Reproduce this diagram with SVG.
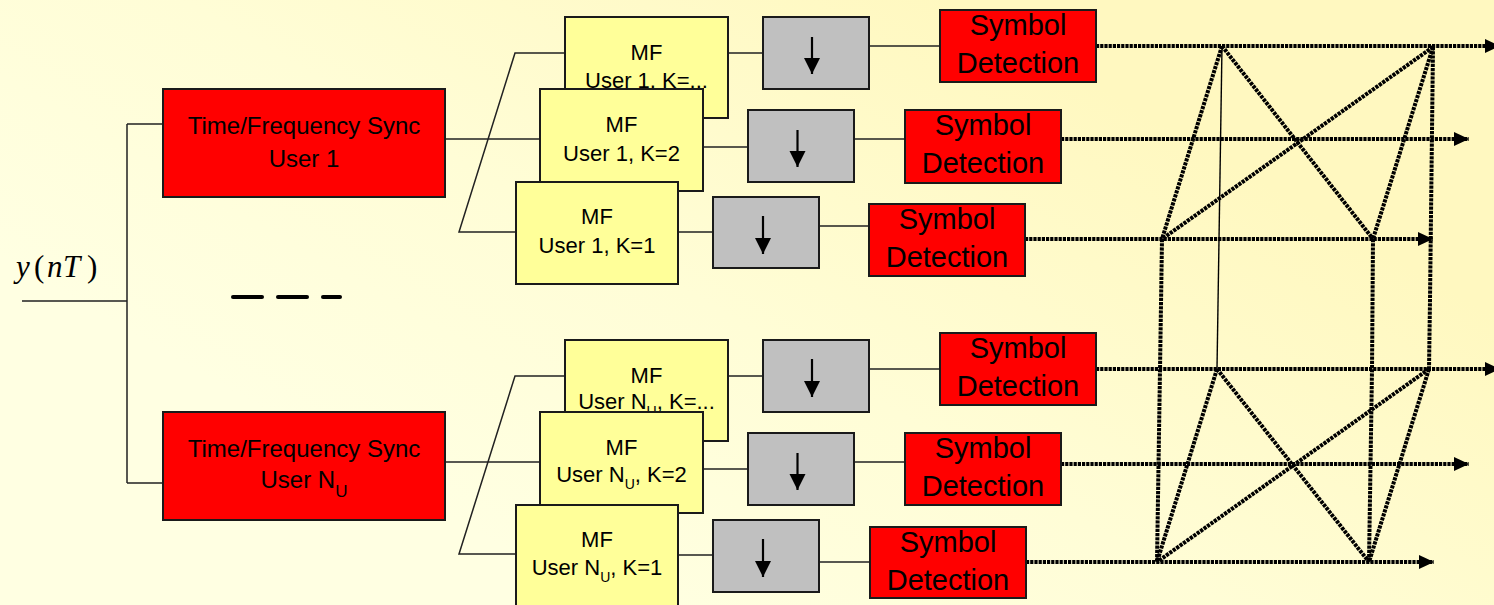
<svg xmlns="http://www.w3.org/2000/svg" width="1494" height="605" viewBox="0 0 1494 605">
  <style>
    .box { stroke: #1a1a1a; stroke-width: 2; }
    .red { fill: #ff0000; }
    .mf { fill: #ffff99; }
    .gray { fill: #c0c0c0; }
    .wire { fill: none; stroke: #222; stroke-width: 1.5; }
    .dot { fill: none; stroke: #000; stroke-width: 4; stroke-dasharray: 3.2 1; }
    .thin { fill: none; stroke: #000; stroke-width: 1.4; }
    .down { stroke: #000; stroke-width: 2.2; marker-end: url(#headDown); }
    .lbl { font-family: "Liberation Sans", Arial, sans-serif; fill: #000; text-anchor: middle; }
    .sync { font-size: 24px; }
    .mft { font-size: 22px; }
    .sd { font-size: 29px; }
    .sub { font-size: 14px; }
    .subL { font-size: 17px; }
  </style>
  <defs>
    <linearGradient id="bg" gradientUnits="userSpaceOnUse" x1="950" y1="0" x2="600" y2="605">
      <stop offset="0" stop-color="#fff8c0"/>
      <stop offset="0.55" stop-color="#fffdd6"/>
      <stop offset="1" stop-color="#ffffe2"/>
    </linearGradient>
    <marker id="headDown" markerUnits="userSpaceOnUse" markerWidth="17" markerHeight="17" refX="16" refY="8" orient="auto">
      <path d="M0,0 L16,8 L0,16 z" fill="#000"/>
    </marker>
    <marker id="headOut" markerUnits="userSpaceOnUse" markerWidth="16" markerHeight="16" refX="15" refY="7" orient="auto">
      <path d="M0,0 L15,7 L0,14 z" fill="#000"/>
    </marker>
  </defs>

  <rect x="0" y="0" width="1494" height="605" fill="url(#bg)"/>

  <!-- input label -->
  <g id="input" font-family="'Liberation Serif', 'Times New Roman', serif" font-size="31">
    <text y="277"><tspan x="16" font-style="italic">y</tspan><tspan x="34">(</tspan><tspan x="47" font-style="italic">n</tspan><tspan x="63" font-style="italic">T</tspan><tspan x="87">)</tspan></text>
  </g>

  <!-- ellipsis between the user branches -->
  <g id="ellipsis" stroke="#000" stroke-width="4" stroke-linecap="round">
    <line x1="233" y1="297" x2="262" y2="297"/>
    <line x1="278" y1="297" x2="307" y2="297"/>
    <line x1="323" y1="297" x2="340" y2="297"/>
  </g>

  <g id="connectors">
    <!-- input trunk -->
    <path class="wire" d="M22,301 H127 M127,124 V483 M127,124 H163 M127,483 H163"/>
    <!-- user 1 fan-out -->
    <path class="wire" d="M445,139 H540 M565,53 H515 L459,232 H516"/>
    <path class="wire" d="M728,53 H763 M703,147 H748 M678,232 H713"/>
    <path class="wire" d="M869,46 H940 M854,139 H905 M819,226 H870"/>
    <!-- user N_U fan-out -->
    <path class="wire" d="M445,462 H540 M565,376 H515 L459,554 H516"/>
    <path class="wire" d="M728,376 H763 M703,469 H748 M678,555 H713"/>
    <path class="wire" d="M869,369 H940 M854,462 H905 M819,562 H870"/>

    <!-- detector outputs -->
    <line class="dot" x1="1096" y1="46" x2="1500" y2="46" marker-end="url(#headOut)"/>
    <line class="dot" x1="1061" y1="139" x2="1469" y2="139" marker-end="url(#headOut)"/>
    <line class="dot" x1="1025" y1="239" x2="1433" y2="239" marker-end="url(#headOut)"/>
    <line class="dot" x1="1096" y1="369" x2="1500" y2="369" marker-end="url(#headOut)"/>
    <line class="dot" x1="1061" y1="464" x2="1469" y2="464" marker-end="url(#headOut)"/>
    <line class="dot" x1="1026" y1="562" x2="1434" y2="562" marker-end="url(#headOut)"/>

    <!-- upper lattice -->
    <path class="dot" d="M1222,46 L1162,239"/>
    <path class="dot" d="M1222,46 L1373,239"/>
    <path class="dot" d="M1433,47 L1162,239"/>
    <path class="dot" d="M1433,47 L1373,239"/>
    <!-- verticals joining the two lattices -->
    <path class="dot" d="M1162,239 L1160,370 L1157,562"/>
    <path class="dot" d="M1373,239 L1372,370 L1369,562"/>
    <path class="dot" d="M1433,47 L1430,300 L1429,369"/>
    <path class="thin" d="M1222,46 L1217,369"/>
    <!-- lower lattice -->
    <path class="dot" d="M1217,369 L1157,562"/>
    <path class="dot" d="M1217,369 L1369,562"/>
    <path class="dot" d="M1429,369 L1157,562"/>
    <path class="dot" d="M1429,369 L1369,562"/>
  </g>

  <!-- user 1 chain -->
  <g id="sync1">
    <rect class="box red" x="163" y="89" width="282" height="108"/>
    <text class="lbl sync" x="304" y="134">Time/Frequency Sync</text>
    <text class="lbl sync" x="304" y="167">User 1</text>
  </g>
  <g id="mf1k">
    <rect class="box mf" x="565" y="17" width="163" height="101"/>
    <text class="lbl mft" x="646.5" y="60">MF</text>
    <text class="lbl mft" x="646.5" y="88">User 1, K=...</text>
  </g>
  <g id="mf1k2">
    <rect class="box mf" x="540" y="89" width="163" height="102"/>
    <text class="lbl mft" x="621.5" y="132">MF</text>
    <text class="lbl mft" x="621.5" y="161">User 1, K=2</text>
  </g>
  <g id="mf1k1">
    <rect class="box mf" x="516" y="182" width="162" height="102"/>
    <text class="lbl mft" x="597" y="224">MF</text>
    <text class="lbl mft" x="597" y="253">User 1, K=1</text>
  </g>
  <g id="ds1k">
    <rect class="box gray" x="763" y="17" width="106" height="72"/>
    <line class="down" x1="812" y1="37" x2="812" y2="74"/>
  </g>
  <g id="ds1k2">
    <rect class="box gray" x="748" y="110" width="106" height="72"/>
    <line class="down" x1="797.5" y1="130" x2="797.5" y2="167"/>
  </g>
  <g id="ds1k1">
    <rect class="box gray" x="713" y="197" width="106" height="71"/>
    <line class="down" x1="763" y1="216" x2="763" y2="254"/>
  </g>
  <g id="sd1k">
    <rect class="box red" x="940" y="10" width="156" height="72"/>
    <text class="lbl sd" x="1018" y="35">Symbol</text>
    <text class="lbl sd" x="1018" y="73">Detection</text>
  </g>
  <g id="sd1k2">
    <rect class="box red" x="905" y="110" width="156" height="73"/>
    <text class="lbl sd" x="983" y="135">Symbol</text>
    <text class="lbl sd" x="983" y="173">Detection</text>
  </g>
  <g id="sd1k1">
    <rect class="box red" x="869" y="204" width="156" height="72"/>
    <text class="lbl sd" x="947" y="229">Symbol</text>
    <text class="lbl sd" x="947" y="267">Detection</text>
  </g>

  <!-- user N_U chain -->
  <g id="syncN">
    <rect class="box red" x="163" y="412" width="282" height="108"/>
    <text class="lbl sync" x="304" y="457">Time/Frequency Sync</text>
    <text class="lbl sync" x="304" y="488">User N<tspan class="subL" dy="9">U</tspan></text>
  </g>
  <g id="mfNk">
    <rect class="box mf" x="565" y="340" width="163" height="101"/>
    <text class="lbl mft" x="646.5" y="383">MF</text>
    <text class="lbl mft" x="646.5" y="409">User N<tspan class="sub" dy="7">U</tspan><tspan dy="-7">, K=...</tspan></text>
  </g>
  <g id="mfNk2">
    <rect class="box mf" x="540" y="412" width="163" height="101"/>
    <text class="lbl mft" x="621.5" y="455">MF</text>
    <text class="lbl mft" x="621.5" y="482">User N<tspan class="sub" dy="7">U</tspan><tspan dy="-7">, K=2</tspan></text>
  </g>
  <g id="mfNk1">
    <rect class="box mf" x="516" y="505" width="162" height="102"/>
    <text class="lbl mft" x="597" y="547">MF</text>
    <text class="lbl mft" x="597" y="575">User N<tspan class="sub" dy="7">U</tspan><tspan dy="-7">, K=1</tspan></text>
  </g>
  <g id="dsNk">
    <rect class="box gray" x="763" y="340" width="106" height="72"/>
    <line class="down" x1="812" y1="359" x2="812" y2="397"/>
  </g>
  <g id="dsNk2">
    <rect class="box gray" x="748" y="433" width="106" height="72"/>
    <line class="down" x1="797.5" y1="453" x2="797.5" y2="490"/>
  </g>
  <g id="dsNk1">
    <rect class="box gray" x="713" y="520" width="106" height="72"/>
    <line class="down" x1="763" y1="539" x2="763" y2="577"/>
  </g>
  <g id="sdNk">
    <rect class="box red" x="940" y="333" width="156" height="72"/>
    <text class="lbl sd" x="1018" y="358">Symbol</text>
    <text class="lbl sd" x="1018" y="396">Detection</text>
  </g>
  <g id="sdNk2">
    <rect class="box red" x="905" y="433" width="156" height="72"/>
    <text class="lbl sd" x="983" y="458">Symbol</text>
    <text class="lbl sd" x="983" y="496">Detection</text>
  </g>
  <g id="sdNk1">
    <rect class="box red" x="870" y="527" width="156" height="71"/>
    <text class="lbl sd" x="948" y="552">Symbol</text>
    <text class="lbl sd" x="948" y="590">Detection</text>
  </g>
</svg>
